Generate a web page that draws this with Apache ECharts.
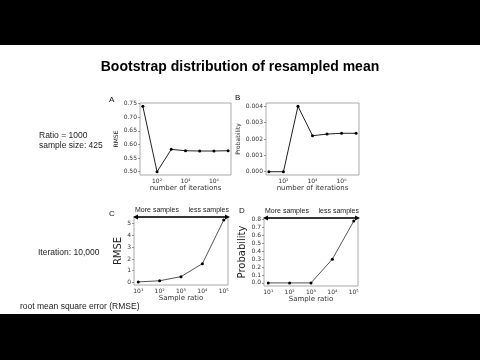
<!DOCTYPE html>
<html>
<head>
<meta charset="utf-8">
<script src="https://cdn.jsdelivr.net/npm/echarts@6/dist/echarts.min.js"></script>
<style>html,body{margin:0;padding:0;background:#000;}#c{width:480px;height:360px;}</style>
</head>
<body>
<div id="c"></div>
<script>
// ---- data ----
const iterations = [10, 100, 1000, 10000, 100000, 1000000, 10000000];
const rmseByIter = [0.74, 0.50, 0.582, 0.577, 0.576, 0.576, 0.577];
const probByIter = [0.0, 0.0, 0.0040, 0.0022, 0.0023, 0.00235, 0.00235];
const ratios = [10, 100, 1000, 10000, 100000];
const rmseByRatio = [0.05, 0.15, 0.5, 1.6, 5.3];
const probByRatio = [0.0, 0.0, 0.0, 0.3, 0.78];
const yTicksA = [0.50, 0.55, 0.60, 0.65, 0.70, 0.75];
const yTicksB = [0.000, 0.001, 0.002, 0.003, 0.004];
const yTicksC = [0, 1, 2, 3, 4, 5];
const yTicksD = [0.0, 0.1, 0.2, 0.3, 0.4, 0.5, 0.6, 0.7, 0.8];

const SUP = {'0':'\u2070','1':'\u00b9','2':'\u00b2','3':'\u00b3','4':'\u2074','5':'\u2075','6':'\u2076','7':'\u2077','8':'\u2078','9':'\u2079'};
function powLabel(evenOnly) {
  return function (v) {
    const e = Math.log10(v);
    const r = Math.round(e);
    if (Math.abs(e - r) > 1e-6) return '';
    if (evenOnly && r % 2 !== 0) return '';
    return '10' + String(r).split('').map(c => SUP[c]).join('');
  };
}
const FONT = 'DejaVu Sans';
const TXT = 'Liberation Sans';
function xLog(gi, mn, mx, evenOnly, name, gap) {
  return {
    type: 'log', gridIndex: gi, min: mn, max: mx, logBase: 10,
    axisLine: {show: false}, axisTick: {show: false}, splitLine: {show: false},
    axisLabel: {formatter: powLabel(evenOnly), fontFamily: FONT, fontSize: 6, color: '#333', margin: 3,
      showMinLabel: true, showMaxLabel: true},
    name: name, nameLocation: 'middle', nameGap: gap,
    nameTextStyle: {fontFamily: FONT, fontSize: 7, color: '#333'}
  };
}
function yVal(gi, mn, mx, ticks, fmt, name, gap, nameSize) {
  return {
    type: 'value', gridIndex: gi, min: mn, max: mx,
    axisLine: {show: false}, splitLine: {show: false},
    axisTick: {show: true, length: 2, lineStyle: {color: '#555', width: 0.6}, customValues: ticks},
    axisLabel: {customValues: ticks, formatter: fmt, fontFamily: FONT, fontSize: 6, color: '#333', margin: 3},
    name: name, nameLocation: 'middle', nameRotate: 90, nameGap: gap,
    nameTextStyle: {fontFamily: FONT, fontSize: nameSize, color: '#222'}
  };
}
function lineSeries(gi, xs, ys, color) {
  return {
    type: 'line', xAxisIndex: gi, yAxisIndex: gi,
    data: xs.map((x, i) => [x, ys[i]]),
    symbol: 'circle', symbolSize: 3, showSymbol: true,
    itemStyle: {color: '#000'},
    lineStyle: {color: color, width: 1},
    animation: false
  };
}
function txt(x, y, s, size, opts) {
  return {type: 'text', x: x, y: y, style: Object.assign({text: s, fontFamily: TXT, fontSize: size, fill: '#111', textAlign: 'left', textVerticalAlign: 'middle'}, opts || {})};
}
function arrow(x1, x2, y) {
  return [
    {type: 'line', shape: {x1: x1 + 3, y1: y, x2: x2 - 3, y2: y}, style: {stroke: '#000', lineWidth: 1.5}},
    {type: 'polygon', shape: {points: [[x1, y], [x1 + 5, y - 2.5], [x1 + 5, y + 2.5]]}, style: {fill: '#000'}},
    {type: 'polygon', shape: {points: [[x2, y], [x2 - 5, y - 2.5], [x2 - 5, y + 2.5]]}, style: {fill: '#000'}}
  ];
}

const chart = echarts.init(document.getElementById('c'), null, {renderer: 'canvas'});
const gridStyle = {show: true, borderColor: '#aaa', borderWidth: 1, backgroundColor: 'transparent'};
const option = {
  backgroundColor: '#000',
  animation: false,
  graphic: [
    {type: 'rect', z: -10, shape: {x: 0, y: 45, width: 480, height: 269}, style: {fill: '#fff'}},
    txt(240, 67, 'Bootstrap distribution of resampled mean', 14, {fontWeight: 'bold', textAlign: 'center', fill: '#000'}),
    txt(39, 136, 'Ratio = 1000', 8.5, {fill: '#222'}),
    txt(39, 146, 'sample size: 425', 8.5, {fill: '#222'}),
    txt(38, 253, 'Iteration: 10,000', 8.5, {fill: '#222'}),
    txt(20, 307, 'root mean square error (RMSE)', 8.5, {fill: '#222'}),
    txt(109, 100, 'A', 8),
    txt(235, 98, 'B', 8),
    txt(109, 214, 'C', 8),
    txt(239, 211, 'D', 8),
    txt(135, 214, 'More samples', 7, {textVerticalAlign: 'bottom', fill: '#222'}),
    txt(229, 214, 'less samples', 7, {textAlign: 'right', textVerticalAlign: 'bottom', fill: '#222'}),
    txt(265, 215, 'More samples', 7, {textVerticalAlign: 'bottom', fill: '#222'}),
    txt(359, 215, 'less samples', 7, {textAlign: 'right', textVerticalAlign: 'bottom', fill: '#222'})
  ].concat(arrow(133, 230, 217)).concat(arrow(263, 360, 218)),
  grid: [
    Object.assign({left: 140, top: 103, width: 91, height: 72}, gridStyle),
    Object.assign({left: 266, top: 103, width: 93, height: 72}, gridStyle),
    Object.assign({left: 134, top: 217, width: 94, height: 68}, gridStyle),
    Object.assign({left: 264, top: 218, width: 94, height: 68}, gridStyle)
  ],
  xAxis: [
    xLog(0, 6.31, 1.585e7, true, 'number of iterations', 10),
    xLog(1, 6.31, 1.585e7, true, 'number of iterations', 10),
    xLog(2, 6.31, 1.585e5, false, 'Sample ratio', 10),
    xLog(3, 6.31, 1.585e5, false, 'Sample ratio', 10)
  ],
  yAxis: [
    yVal(0, 0.488, 0.752, yTicksA, v => v.toFixed(2), 'RMSE', 13, 6),
    yVal(1, -0.0002, 0.0042, yTicksB, v => v.toFixed(3), 'Probability', 15, 6),
    yVal(2, -0.21, 5.56, yTicksC, v => String(Math.round(v)), 'RMSE', 5, 10),
    yVal(3, -0.039, 0.819, yTicksD, v => v.toFixed(1), 'Probability', 8, 10)
  ],
  series: [
    lineSeries(0, iterations, rmseByIter, '#222'),
    lineSeries(1, iterations, probByIter, '#222'),
    lineSeries(2, ratios, rmseByRatio, '#555'),
    lineSeries(3, ratios, probByRatio, '#555')
  ]
};
chart.setOption(option);
</script>
</body>
</html>
